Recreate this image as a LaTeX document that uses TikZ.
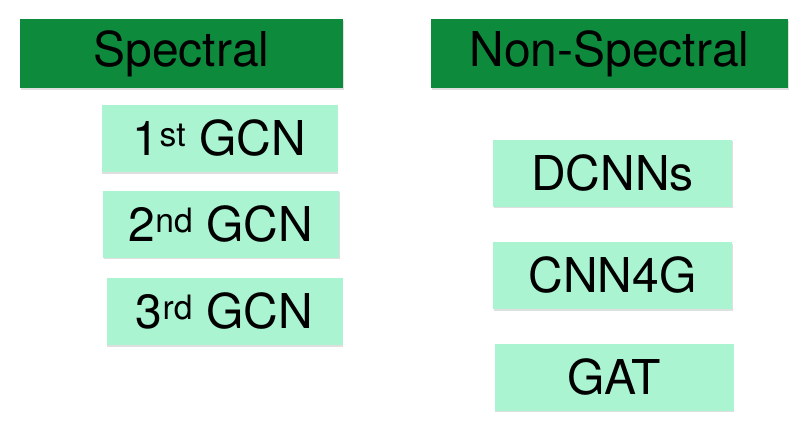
\documentclass[tikz,border=0pt]{standalone}
\usepackage{fontspec}
\setmainfont{TeX Gyre Heros}
\usetikzlibrary{shadows}
\definecolor{headgreen}{RGB}{14,138,60}
\definecolor{mint}{RGB}{170,244,210}

\begin{document}
\begin{tikzpicture}[x=1pt,y=-1pt,
  head/.style={rectangle,fill=headgreen,inner sep=0pt,minimum height=69pt,
    font=\fontsize{48}{50}\selectfont,
    drop shadow={shadow xshift=0.5pt,shadow yshift=-1.5pt,opacity=0.25}},
  method/.style={rectangle,fill=mint,inner sep=0pt,minimum width=236pt,
    minimum height=67pt,font=\fontsize{48}{50}\selectfont,
    drop shadow={shadow xshift=0.5pt,shadow yshift=-1.5pt,opacity=0.25}}
]
\useasboundingbox (0,0) rectangle (809,431);
\node[head,minimum width=323pt] (spec) at (181.5,53.5) {Spectral};
\node[head,minimum width=357pt] (nonspec) at (609.5,53.5) {Non-Spectral};
\node[method] (g1) at (219.5,138.5) {1\textsuperscript{st} GCN};
\node[method] (g2) at (221,224) {2\textsuperscript{nd} GCN};
\node[method] (g3) at (224.5,311.5) {3\textsuperscript{rd} GCN};
\node[method,minimum width=239pt] (dcnn) at (612.5,173) {DCNNs};
\node[method,minimum width=239pt] (cnn4g) at (612.5,275.5) {CNN4G};
\node[method,minimum width=239pt] (gat) at (614,377) {GAT};
\end{tikzpicture}
\end{document}
